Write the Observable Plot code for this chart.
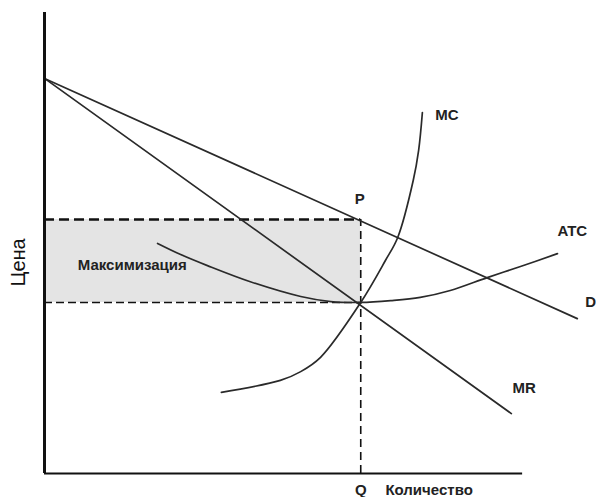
<!DOCTYPE html>
<html><head><meta charset="utf-8">
<script src="https://cdn.jsdelivr.net/npm/d3@7"></script>
<script src="https://cdn.jsdelivr.net/npm/@observablehq/plot@0.6"></script>
<style>body{margin:0;background:#fff} svg{display:block}</style>
</head><body><div id="chart"></div>
<script>
// Data (economic units: quantity 0..100, price 0..100)
const demandQ = [0, 99.4];
const demandP = [85.7, 33.6];
const mrQ = [0, 87.1];
const mrP = [85.7, 13.0];
const mcQ = [33.0, 44.0, 47.8, 51.5, 59.0, 63.6, 65.9, 68.8, 69.8, 70.5];
const mcP = [17.6, 20.2, 22.1, 25.2, 37.1, 46.2, 51.2, 63.6, 70.1, 78.3];
const atcQ = [21.1, 25.4, 30.4, 38.4, 47.8, 53.4, 59.0, 64.6, 70.1, 75.7, 82.6, 88.8, 95.7];
const atcP = [49.9, 47.5, 45.1, 41.6, 38.4, 37.3, 37.1, 37.5, 38.2, 39.7, 42.5, 44.9, 47.7];
const optQ = 59.0;      // Q
const optP = 55.1;      // P
const optCost = 37.1;   // ATC at Q
const axisXEnd = 89.2;
const axisYEnd = 100;
const labelText = ["MC", "ATC", "D", "MR", "P", "Q", "Количество", "Максимизация"];
const labelQ    = [72.9, 95.7, 100.9, 87.3, 58.8, 59.0, 63.6, 6.2];
const labelP    = [77.7, 52.5, 37.1, 18.4, 59.4, -3.7, -3.7, 45.1];
const labelAnchor = ["start", "start", "start", "start", "middle", "middle", "start", "start"];

const toPts = (qs, ps) => qs.map((q, i) => ({q, p: ps[i]}));
const labels = labelText.map((t, i) => ({t, q: labelQ[i], p: labelP[i], a: labelAnchor[i]}));
const ink = "#2a2a2a";
const font = "'Liberation Sans', Arial, sans-serif";

const chart = Plot.plot({
  width: 596, height: 497,
  marginLeft: 44, marginRight: 16, marginTop: 12, marginBottom: 24,
  x: {domain: [0, 100], axis: null},
  y: {domain: [0, 100], axis: null},
  style: {fontFamily: font, background: "#fff", overflow: "visible"},
  marks: [
    Plot.rect([{x1: 0, x2: optQ, y1: optCost, y2: optP}], {x1: "x1", x2: "x2", y1: "y1", y2: "y2", fill: "#e4e4e4"}),
    Plot.ruleY([optP], {x1: 0, x2: optQ, stroke: "#111", strokeWidth: 2.4, strokeDasharray: "10,5"}),
    Plot.ruleY([optCost], {x1: 0, x2: optQ, stroke: "#111", strokeWidth: 1.6, strokeDasharray: "8,4"}),
    Plot.ruleX([optQ], {y1: 0, y2: optP, stroke: "#111", strokeWidth: 1.6, strokeDasharray: "8,5"}),
    Plot.line(toPts(demandQ, demandP), {x: "q", y: "p", stroke: ink, strokeWidth: 1.7}),
    Plot.line(toPts(mrQ, mrP), {x: "q", y: "p", stroke: ink, strokeWidth: 1.7}),
    Plot.line(toPts(mcQ, mcP), {x: "q", y: "p", stroke: ink, strokeWidth: 1.7, curve: "catmull-rom"}),
    Plot.line(toPts(atcQ, atcP), {x: "q", y: "p", stroke: ink, strokeWidth: 1.7, curve: "catmull-rom"}),
    Plot.ruleX([0], {y1: 0, y2: axisYEnd, stroke: "#111", strokeWidth: 3}),
    Plot.ruleY([0], {x1: 0, x2: axisXEnd, stroke: "#111", strokeWidth: 1.8}),
    Plot.text(labels.filter(d => d.a === "start"), {x: "q", y: "p", text: "t", textAnchor: "start", fontSize: 15, fontWeight: "bold", fill: "#222"}),
    Plot.text(labels.filter(d => d.a === "middle"), {x: "q", y: "p", text: "t", textAnchor: "middle", fontSize: 15, fontWeight: "bold", fill: "#222"}),
    Plot.text(["Цена"], {x: -4.9, y: 45.8, text: d => d, rotate: -90, fontSize: 20, fill: "#111"})
  ]
});
document.getElementById("chart").appendChild(chart);
</script>
</body></html>
